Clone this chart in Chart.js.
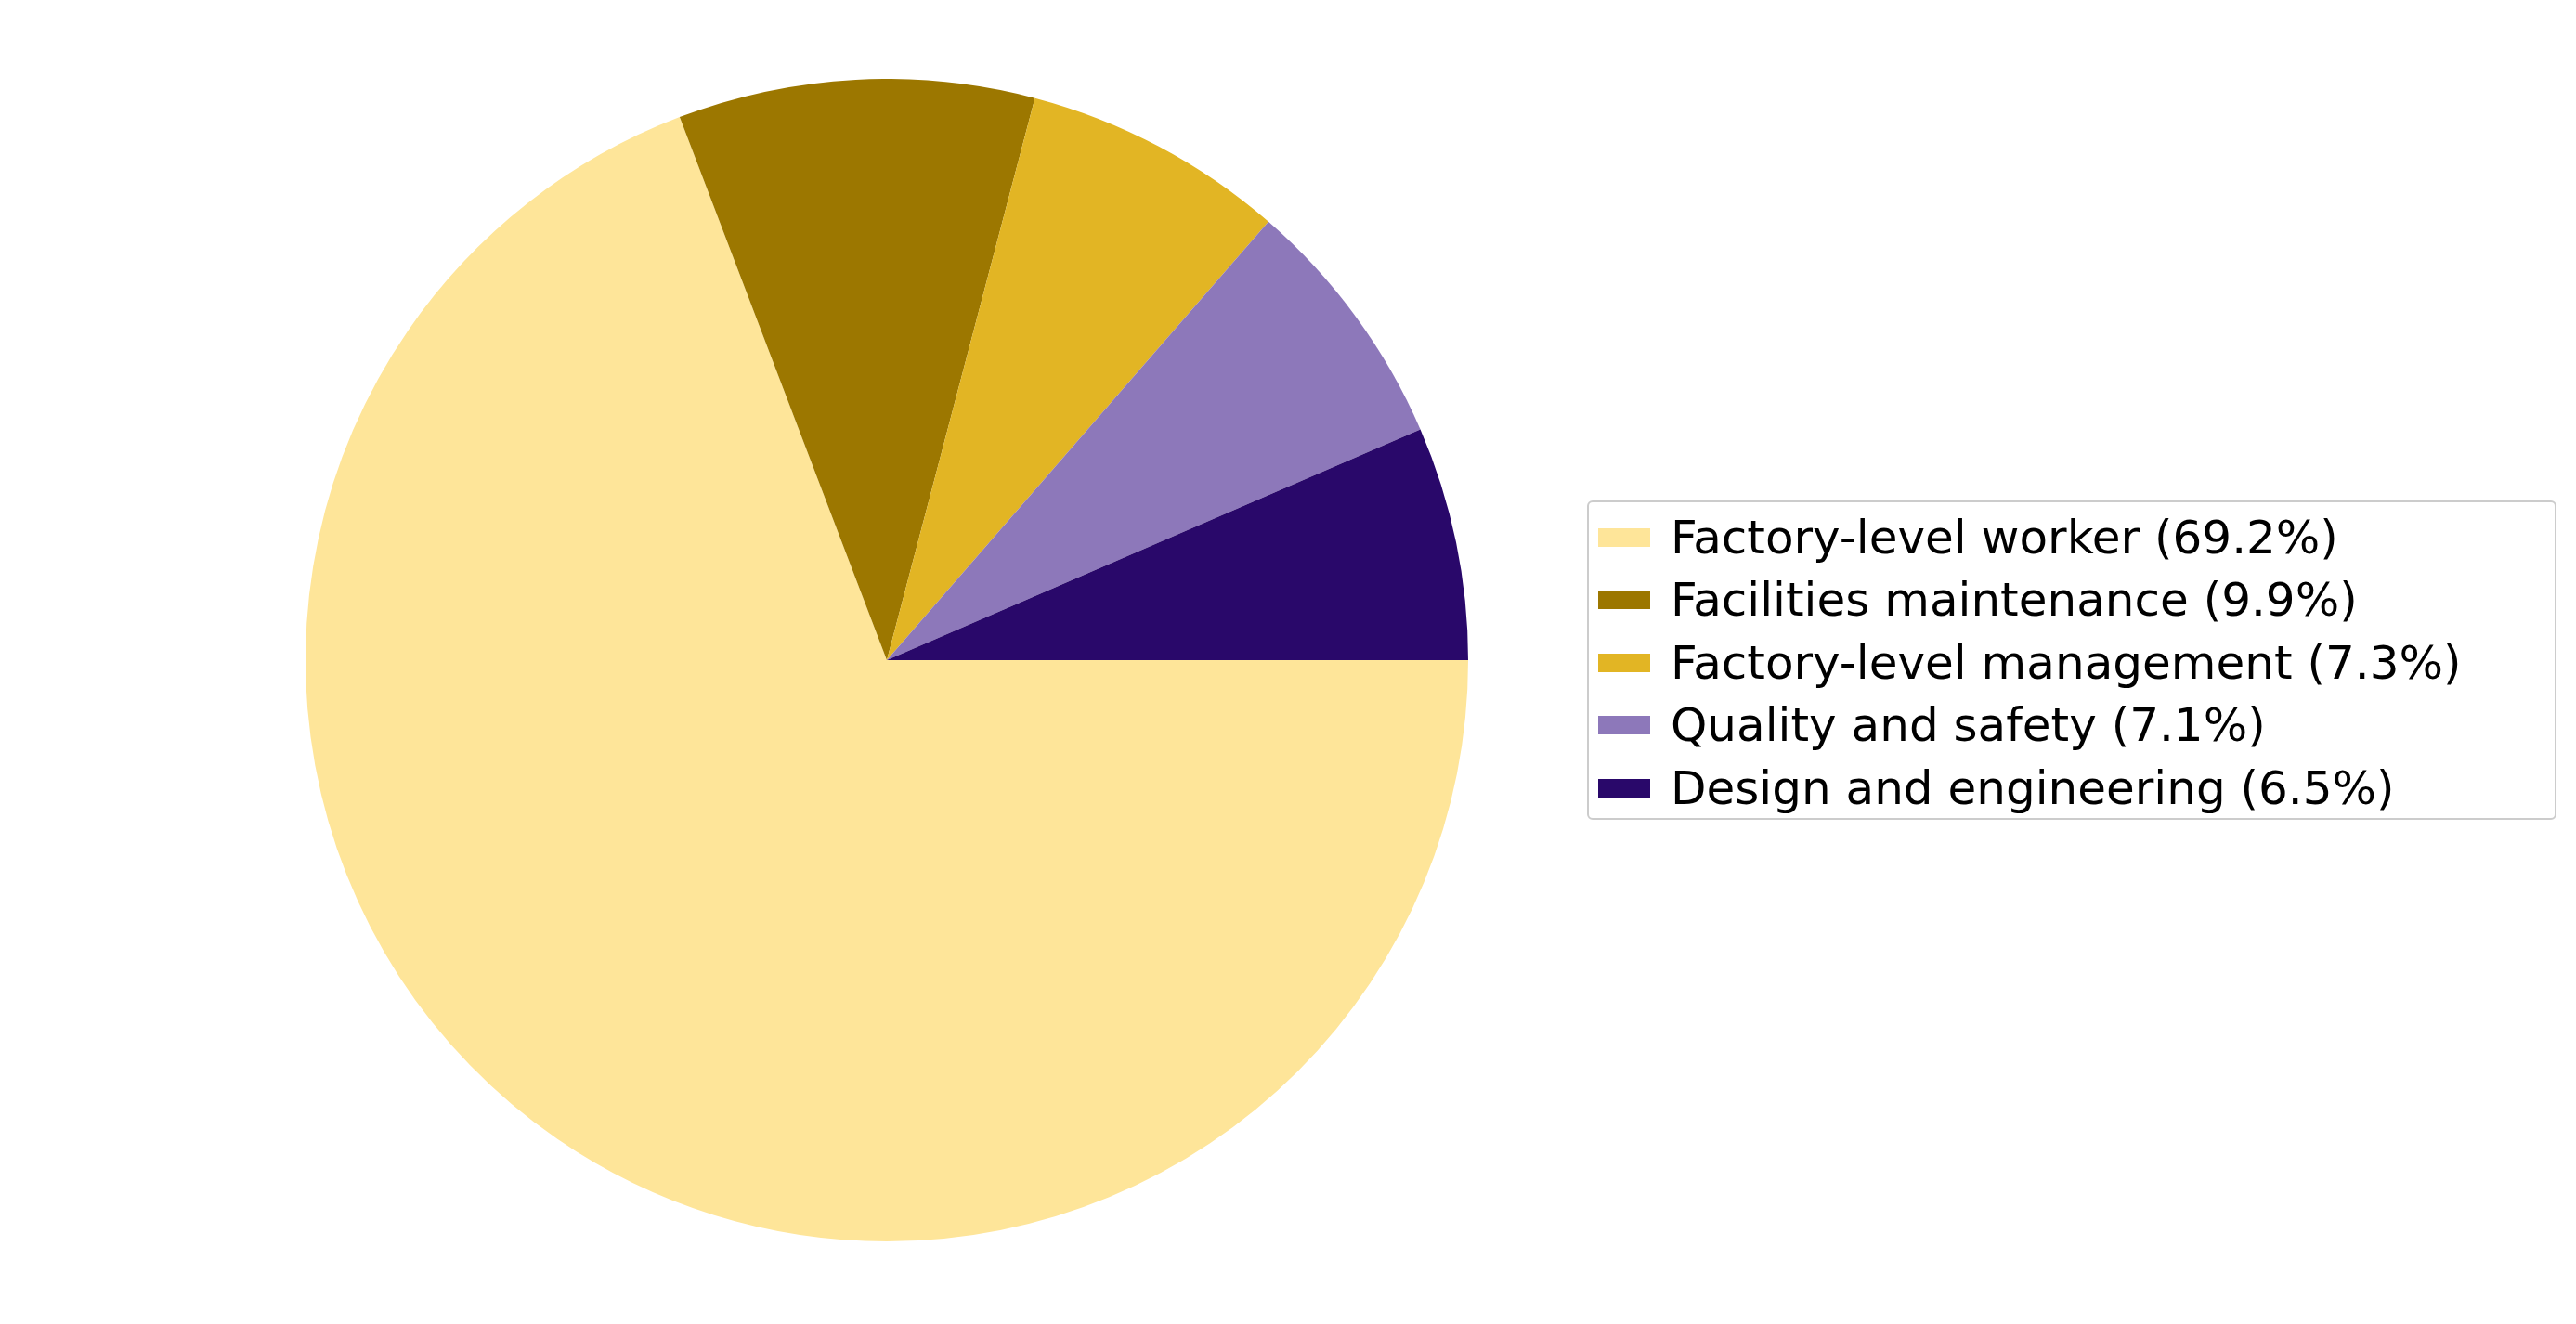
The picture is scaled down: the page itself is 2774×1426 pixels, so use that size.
<!DOCTYPE html>
<html><head><meta charset="utf-8">
<script src="https://cdn.jsdelivr.net/npm/chart.js@4"></script>
<style>
body{margin:0;width:2774px;height:1426px;background:#fff;font-family:"DejaVu Sans",sans-serif;position:relative;overflow:hidden}
#wrap{position:absolute;left:329px;top:85px;width:1252px;height:1252px}
#legend{position:absolute;left:1709px;top:539px;width:1044px;height:344px;border:2px solid #ccc;border-radius:6px;box-sizing:border-box;padding:4px 0 0 0}
.item{display:flex;align-items:center;height:67.5px;font-size:50px;color:#000}
.sw{width:56px;height:20px;margin:0 22px 0 10px}
</style></head><body>
<div id="wrap"><canvas id="pie"></canvas></div>
<div id="legend"></div>
<script>
const labels = ["Factory-level worker", "Facilities maintenance", "Factory-level management", "Quality and safety", "Design and engineering"];
const shares = [69.2, 9.9, 7.3, 7.1, 6.5];
const colors = ["#FEE599", "#9C7700", "#E2B524", "#8D78BA", "#29086A"];

const legend = document.getElementById("legend");
labels.forEach((l, i) => {
  const d = document.createElement("div");
  d.className = "item";
  d.innerHTML = `<span class="sw" style="background:${colors[i]}"></span>${l} (${shares[i].toFixed(1)}%)`;
  legend.appendChild(d);
});

new Chart(document.getElementById("pie"), {
  type: "pie",
  data: { labels, datasets: [{ data: shares, backgroundColor: colors, borderWidth: 0 }] },
  options: {
    responsive: true, maintainAspectRatio: false, animation: false,
    rotation: 90,
    layout: { padding: 0 },
    plugins: { legend: { display: false }, tooltip: { enabled: false } }
  }
});
</script>
</body></html>
